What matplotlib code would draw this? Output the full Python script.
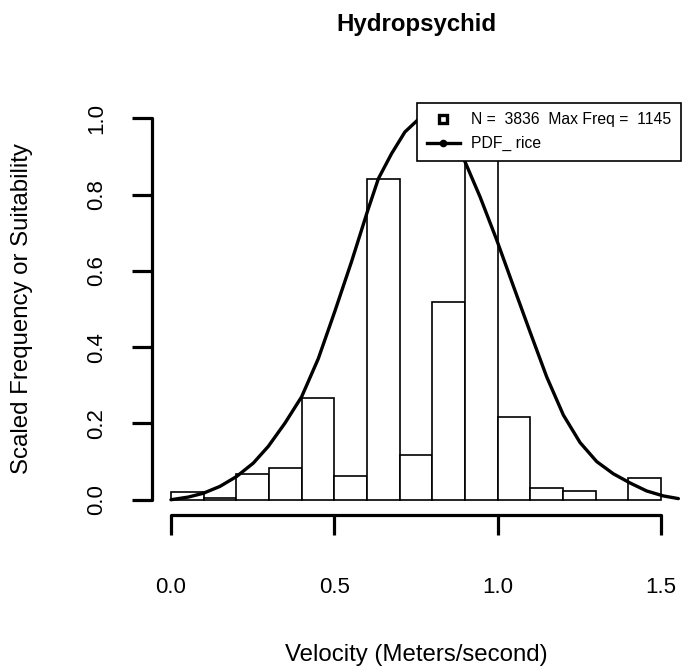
import matplotlib.pyplot as plt
from matplotlib.lines import Line2D
import numpy as np

plt.rcParams["font.family"] = ["Liberation Sans", "DejaVu Sans"]

# Histogram bins (velocity, m/s) and scaled frequencies
bin_edges = [0.0, 0.1, 0.2, 0.3, 0.4, 0.5, 0.6, 0.7, 0.8, 0.9, 1.0, 1.1, 1.2, 1.3, 1.4, 1.5]
scaled_freq = [0.021, 0.004, 0.067, 0.084, 0.268, 0.062, 0.840, 0.118, 0.518, 1.0,
               0.217, 0.031, 0.024, 0.0, 0.058]

# Rice PDF curve (scaled)
pdf_x = [0.0, 0.053, 0.099, 0.150, 0.201, 0.252, 0.298, 0.349, 0.400, 0.451, 0.502,
         0.553, 0.601, 0.635, 0.675, 0.716, 0.757, 0.80, 0.85, 0.900, 0.946, 0.997,
         1.048, 1.099, 1.150, 1.201, 1.252, 1.303, 1.354, 1.405, 1.456, 1.507, 1.553]
pdf_y = [0.0, 0.007, 0.017, 0.035, 0.061, 0.096, 0.140, 0.201, 0.270, 0.370, 0.495,
         0.625, 0.755, 0.842, 0.907, 0.964, 0.997, 0.995, 0.955, 0.886, 0.794, 0.681,
         0.560, 0.440, 0.322, 0.222, 0.150, 0.100, 0.068, 0.044, 0.023, 0.010, 0.003]

n_obs = 3836
max_freq = 1145
x_ticks = [0.0, 0.5, 1.0, 1.5]
y_ticks = [0.0, 0.2, 0.4, 0.6, 0.8, 1.0]

fig = plt.figure(figsize=(6.83, 6.70), dpi=100)
ax = fig.add_axes([152 / 683, 1 - 515 / 670, 529 / 683, 412 / 670])

# Histogram bars
lefts = np.array(bin_edges[:-1])
widths = np.diff(bin_edges)
ax.bar(lefts, scaled_freq, width=widths, align="edge", facecolor="white",
       edgecolor="black", linewidth=1.2, zorder=2)

# PDF curve
ax.plot(pdf_x, pdf_y, color="black", linewidth=2.4, zorder=3, clip_on=False,
        solid_joinstyle="round", solid_capstyle="round")

ax.set_xlim(-0.058, 1.561)
ax.set_ylim(-0.04, 1.04)

# R-style detached axes
for side in ["top", "right"]:
    ax.spines[side].set_visible(False)
ax.spines["bottom"].set_bounds(0.0, 1.5)
ax.spines["left"].set_bounds(0.0, 1.0)
for side in ["bottom", "left"]:
    ax.spines[side].set_linewidth(2.3)
    ax.spines[side].set_capstyle("round")

ax.set_xticks(x_ticks)
ax.set_xticklabels([f"{t:.1f}" for t in x_ticks])
ax.set_yticks(y_ticks)
ax.set_yticklabels([f"{t:.1f}" for t in y_ticks], rotation=90, va="center")
ax.tick_params(axis="x", length=14.5, width=2.3, pad=30, labelsize=16, direction="out")
ax.tick_params(axis="y", length=14.5, width=2.3, pad=18, labelsize=16, direction="out")

ax.set_xlabel("Velocity (Meters/second)", fontsize=17.3)
ax.xaxis.set_label_coords(0.5, -(655 - 515) / 412)
ax.xaxis.label.set_va("center")
ax.set_ylabel("Scaled Frequency or Suitability", fontsize=17.3)
ax.yaxis.set_label_coords(-(152 - 22) / 529, 0.5)
ax.yaxis.label.set_va("center")

fig.text(416.5 / 683, 1 - 25 / 670, "Hydropsychid", fontsize=17.3, fontweight="bold",
         ha="center", va="center")

# Legend
handles = [
    Line2D([], [], linestyle="none", marker="s", markersize=6, markerfacecolor="white",
           markeredgecolor="black", markeredgewidth=2.4),
    Line2D([], [], color="black", linewidth=2.4, marker="o", markersize=4.5),
]
labels = [f"N =  {n_obs}  Max Freq =  {max_freq}", "PDF_ rice"]
leg = ax.legend(handles, labels, loc="upper right", bbox_to_anchor=(1.0, 1.0),
                borderaxespad=0.0, fontsize=11.3, frameon=True, fancybox=False,
                framealpha=1.0, edgecolor="black", handlelength=2.1,
                handletextpad=0.75, borderpad=0.6, labelspacing=0.55)
leg.get_frame().set_linewidth(1.2)
leg.set_zorder(5)

fig.savefig("out.png", dpi=100)
